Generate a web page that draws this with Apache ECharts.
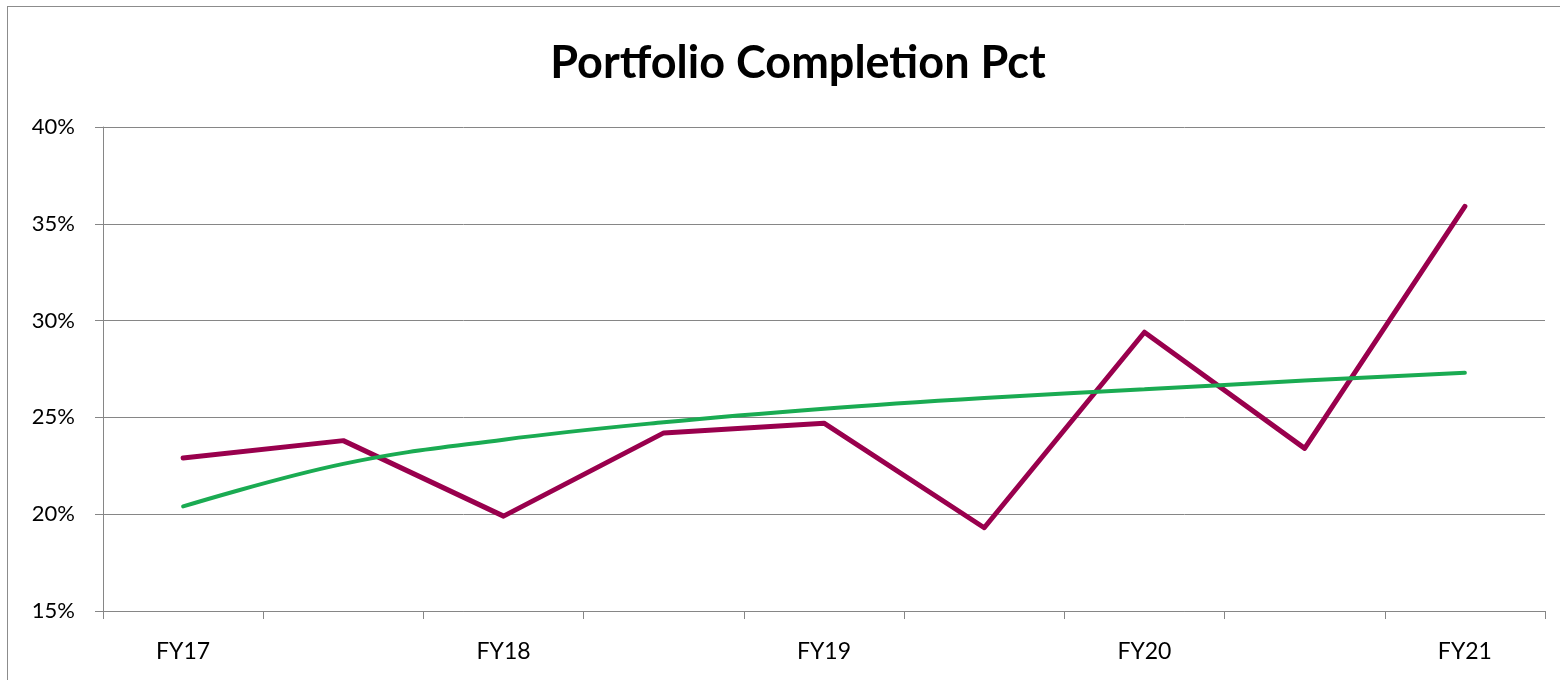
<!DOCTYPE html>
<html>
<head>
<meta charset="utf-8">
<script src="https://cdn.jsdelivr.net/npm/echarts@6/dist/echarts.min.js"></script>
<style>
html,body{margin:0;padding:0;background:#fff;}
#frame{position:absolute;left:7px;top:6px;width:1560px;height:680px;border:1px solid #8c8c8c;box-sizing:border-box;}
#c{position:absolute;left:0;top:0;width:1560px;height:680px;}
</style>
</head>
<body>
<div id="frame"></div>
<div id="c"></div>
<script>
const categories = ['FY17', '', 'FY18', '', 'FY19', '', 'FY20', '', 'FY21'];
const actualPct = [22.9, 23.8, 19.9, 24.2, 24.7, 19.3, 29.4, 23.4, 35.9];
const trendPct = [20.4, 22.6, 23.85, 24.75, 25.45, 26.0, 26.45, 26.9, 27.3];
const yTicks = [15, 20, 25, 30, 35, 40];

const chart = echarts.init(document.getElementById('c'));
chart.setOption({
  animation: false,
  backgroundColor: 'transparent',
  title: {
    text: 'Portfolio Completion Pct',
    left: 793, top: 36, textAlign: 'center',
    textStyle: {fontFamily: 'Lato', fontWeight: 'bold', fontSize: 45, color: '#000'}
  },
  grid: {left: 103, right: 15, top: 127, bottom: 69, containLabel: false},
  xAxis: {
    type: 'category', data: categories, boundaryGap: true,
    axisLine: {lineStyle: {color: '#868686', width: 1}},
    axisTick: {show: true, length: 8, lineStyle: {color: '#868686'}, interval: 0},
    axisLabel: {interval: 0, color: '#000', fontFamily: 'Lato', fontSize: 23, margin: 29}
  },
  yAxis: {
    type: 'value', min: yTicks[0], max: yTicks[yTicks.length - 1], interval: 5,
    axisLine: {show: true, lineStyle: {color: '#868686', width: 1}},
    axisTick: {show: true, length: 8, lineStyle: {color: '#868686'}},
    splitLine: {lineStyle: {color: '#868686', width: 1}},
    axisLabel: {formatter: v => v + '%', color: '#000', fontFamily: 'Lato', fontSize: 22, margin: 28}
  },
  series: [
    {
      type: 'line', data: actualPct, symbol: 'none',
      lineStyle: {color: '#99004d', width: 5, join: 'round', cap: 'round'},
      itemStyle: {color: '#99004d'}
    },
    {
      type: 'line', data: trendPct, symbol: 'none', smooth: 0.4,
      lineStyle: {color: '#1aab52', width: 4, cap: 'round'},
      itemStyle: {color: '#1aab52'}
    }
  ]
});
</script>
</body>
</html>
